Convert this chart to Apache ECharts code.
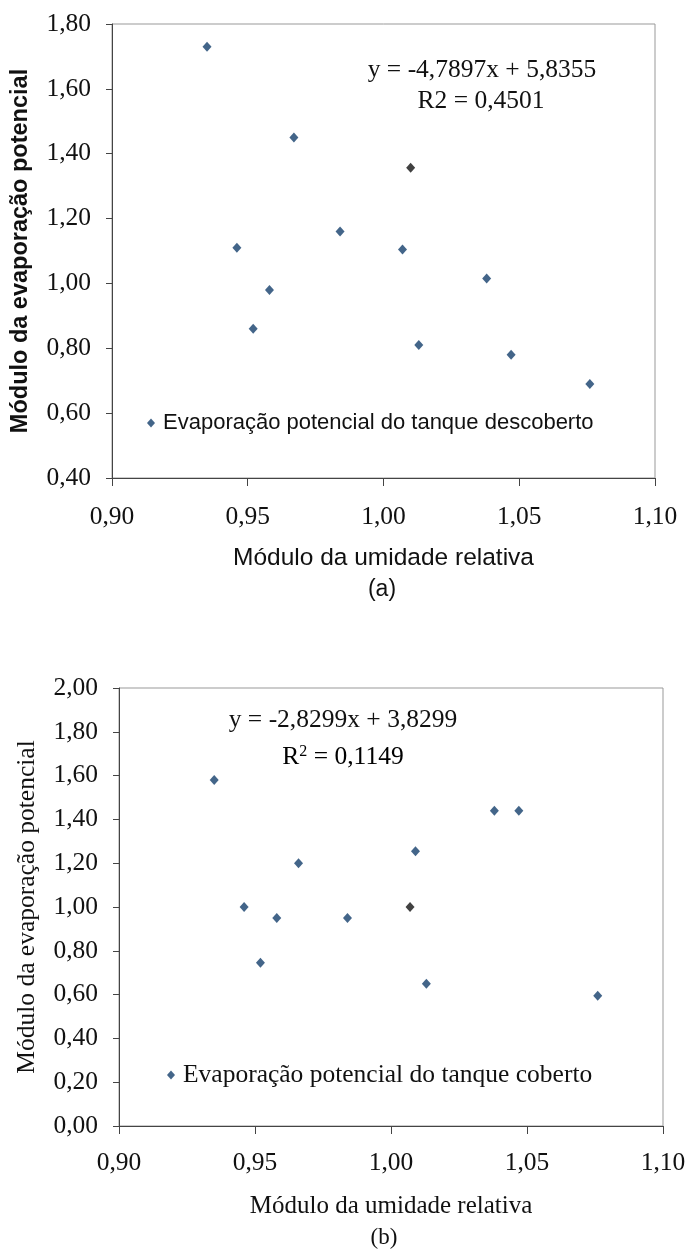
<!DOCTYPE html>
<html>
<head>
<meta charset="utf-8">
<script src="https://cdn.jsdelivr.net/npm/echarts@6/dist/echarts.min.js"></script>
<style>
html,body{margin:0;padding:0;background:#fff;}
#c{width:689px;height:1249px;}
</style>
</head>
<body>
<div id="c"></div>
<script>
// ---- Chart (a): tanque descoberto ----
const xA = [0.935, 0.946, 0.952, 0.958, 0.967, 0.984, 1.007, 1.013, 1.038, 1.047, 1.076];
const yA = [1.73, 1.11, 0.86, 0.98, 1.45, 1.16, 1.105, 0.81, 1.015, 0.78, 0.69];
const xAhi = [1.010];
const yAhi = [1.357];
const nameA = 'Evaporação potencial do tanque descoberto';
const eqA = 'y = -4,7897x + 5,8355';
const r2A = 'R2 = 0,4501';

// ---- Chart (b): tanque coberto ----
const xB = [0.935, 0.946, 0.952, 0.958, 0.966, 0.984, 1.009, 1.013, 1.038, 1.047, 1.076];
const yB = [1.58, 1.00, 0.745, 0.95, 1.20, 0.95, 1.255, 0.65, 1.44, 1.44, 0.595];
const xBhi = [1.007];
const yBhi = [1.00];
const nameB = 'Evaporação potencial do tanque coberto';
const eqB = 'y = -2,8299x + 3,8299';
const r2Bvalue = '0,1149';

const xTitle = 'Módulo da umidade relativa';
const yTitle = 'Módulo da evaporação potencial';

const SERIF = 'Liberation Serif';
const SANS = 'Liberation Sans';
const BLUE = '#143f6c';
const BLACK = '#111111';
const INK = '#111111';
const FS = 25.5;

function pairs(xs, ys){ return xs.map((x,i)=>[x, ys[i]]); }
const fmt = v => v.toFixed(2).replace('.', ',');

function xAxisCfg(gridIndex, nameFont, nameSize, labelMargin, nameGap){
  return {
    gridIndex, type:'value', min:0.90, max:1.10, interval:0.05,
    name: xTitle, nameLocation:'middle', nameGap: nameGap,
    nameTextStyle:{fontFamily:nameFont, fontSize:nameSize, color:INK},
    axisLine:{show:true, onZero:false, lineStyle:{color:'#444', width:1}},
    axisTick:{show:true, inside:false, length:8, lineStyle:{color:'#444'}},
    axisLabel:{fontFamily:SERIF, fontSize:FS, color:INK, margin:labelMargin, formatter:fmt},
    splitLine:{show:false}
  };
}
function yAxisCfg(gridIndex, min, max, nameFont, nameWeight, nameSize){
  return {
    gridIndex, type:'value', min, max, interval:0.2,
    name: yTitle, nameLocation:'middle', nameGap: 79,
    nameTextStyle:{fontFamily:nameFont, fontSize:nameSize, fontWeight:nameWeight, color:INK},
    axisLine:{show:true, onZero:false, lineStyle:{color:'#444', width:1}},
    axisTick:{show:true, inside:false, length:6, lineStyle:{color:'#444'}},
    axisLabel:{fontFamily:SERIF, fontSize:FS, color:INK, margin:21, formatter:fmt},
    splitLine:{show:false}
  };
}

const chart = echarts.init(document.getElementById('c'), null, {renderer:'canvas'});
chart.setOption({
  animation:false,
  backgroundColor:'#ffffff',
  grid:[
    {left:112, top:24, width:543, height:454, show:true, borderColor:'#999', borderWidth:1, backgroundColor:'#fff'},
    {left:119, top:688, width:544, height:438, show:true, borderColor:'#999', borderWidth:1, backgroundColor:'#fff'}
  ],
  xAxis:[ xAxisCfg(0, SANS, 24.5, 26, 68), xAxisCfg(1, SERIF, 25, 24, 68) ],
  yAxis:[ yAxisCfg(0, 0.40, 1.80, SANS, 'bold', 23.5), yAxisCfg(1, 0.00, 2.00, SERIF, 'normal', 25.5) ],
  legend:[
    {data:[nameA], left:142, top:407, orient:'horizontal', icon:'diamond', itemWidth:8, itemHeight:9,
     textStyle:{fontFamily:SANS, fontSize:22, color:INK, padding:[0,0,0,3]}},
    {data:[nameB], left:162, top:1057, orient:'horizontal', icon:'diamond', itemWidth:8, itemHeight:9,
     textStyle:{fontFamily:SERIF, fontSize:FS, color:INK, padding:[0,0,0,3]}}
  ],
  series:[
    {name:nameA, type:'scatter', xAxisIndex:0, yAxisIndex:0, symbol:'diamond', symbolSize:[9,10],
     itemStyle:{color:BLUE}, data:pairs(xA, yA)},
    {name:'a-hi', type:'scatter', xAxisIndex:0, yAxisIndex:0, symbol:'diamond', symbolSize:[9,10],
     itemStyle:{color:BLACK}, data:pairs(xAhi, yAhi)},
    {name:nameB, type:'scatter', xAxisIndex:1, yAxisIndex:1, symbol:'diamond', symbolSize:[9,10],
     itemStyle:{color:BLUE}, data:pairs(xB, yB)},
    {name:'b-hi', type:'scatter', xAxisIndex:1, yAxisIndex:1, symbol:'diamond', symbolSize:[9,10],
     itemStyle:{color:BLACK}, data:pairs(xBhi, yBhi)}
  ],
  graphic:[
    {type:'text', x:482, y:70, style:{text:eqA, font:FS+'px "'+SERIF+'"', fill:INK, textAlign:'center', textVerticalAlign:'middle'}},
    {type:'text', x:481, y:101, style:{text:r2A, font:FS+'px "'+SERIF+'"', fill:INK, textAlign:'center', textVerticalAlign:'middle'}},
    {type:'text', x:382, y:590, style:{text:'(a)', font:'23px "'+SANS+'"', fill:INK, textAlign:'center', textVerticalAlign:'middle'}},
    {type:'text', x:343, y:720, style:{text:eqB, font:FS+'px "'+SERIF+'"', fill:INK, textAlign:'center', textVerticalAlign:'middle'}},
    {type:'text', x:343, y:757, style:{
      text:'{n|R}{s|2}{n| = '+r2Bvalue+'}',
      rich:{
        n:{fontFamily:SERIF, fontSize:FS, color:INK},
        s:{fontFamily:SERIF, fontSize:16, color:INK, verticalAlign:'top', padding:[0,0,10,0]}
      },
      textAlign:'center', textVerticalAlign:'middle'}},
    {type:'text', x:384, y:1238, style:{text:'(b)', font:'23px "'+SERIF+'"', fill:INK, textAlign:'center', textVerticalAlign:'middle'}}
  ]
});
</script>
</body>
</html>
